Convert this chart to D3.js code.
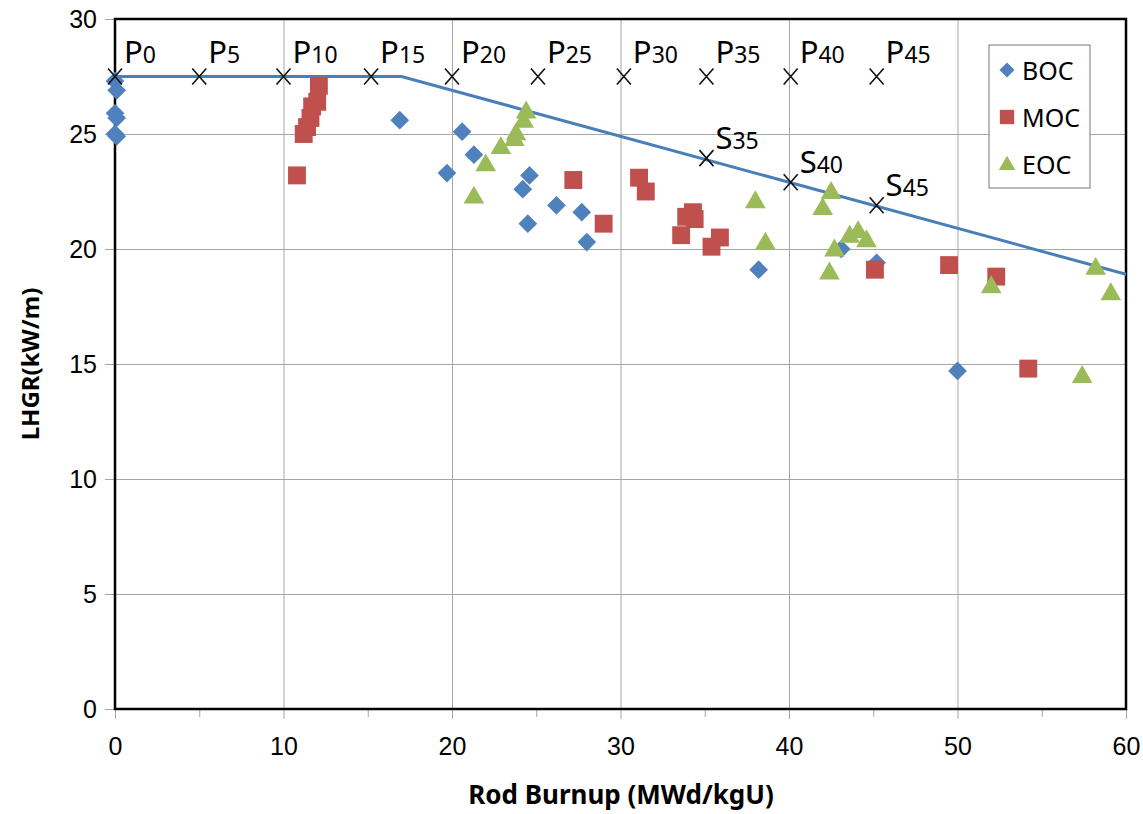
<!DOCTYPE html>
<html>
<head>
<meta charset="utf-8">
<script src="https://cdn.jsdelivr.net/npm/d3@7"></script>
<style>
  html, body { margin: 0; padding: 0; background: #fff; }
  svg { display: block; font-family: "Noto Sans", "DejaVu Sans", sans-serif; }
</style>
</head>
<body>
<svg id="chart" width="1143" height="814"></svg>
<script>
// Linear heat generation rate versus rod burnup, by cycle stage
const xTicks = [0, 10, 20, 30, 40, 50, 60];
const yTicks = [0, 5, 10, 15, 20, 25, 30];

// Beginning of cycle
const bocBurnup = [0, 0.1, 0, 0.1, 0, 0.1, 16.9, 20.6, 21.3, 19.7, 24.6, 24.2, 24.5, 26.2, 27.7, 28.0, 38.2, 43.1, 45.2, 50.0];
const bocLhgr   = [27.3, 26.9, 25.9, 25.7, 25.0, 24.9, 25.6, 25.1, 24.1, 23.3, 23.2, 22.6, 21.1, 21.9, 21.6, 20.3, 19.1, 20.0, 19.4, 14.7];

// Middle of cycle
const mocBurnup = [12.1, 12.0, 11.7, 11.6, 11.4, 11.2, 10.8, 27.2, 29.0, 31.1, 31.5, 34.3, 33.9, 34.4, 33.6, 35.9, 35.4, 45.1, 49.5, 52.3, 54.2];
const mocLhgr   = [27.1, 26.4, 26.2, 25.7, 25.3, 25.0, 23.2, 23.0, 21.1, 23.1, 22.5, 21.6, 21.4, 21.3, 20.6, 20.5, 20.1, 19.1, 19.3, 18.8, 14.8];

// End of cycle
const eocBurnup = [24.4, 24.25, 23.8, 23.7, 22.9, 22.0, 21.3, 38.0, 38.6, 42.5, 42.0, 43.6, 44.1, 44.6, 42.7, 42.4, 52.0, 58.2, 59.1, 57.4];
const eocLhgr   = [26.0, 25.6, 25.05, 24.8, 24.45, 23.7, 22.3, 22.1, 20.3, 22.5, 21.8, 20.6, 20.8, 20.4, 20.0, 19.0, 18.4, 19.2, 18.1, 14.5];

// LHGR limit curve
const limitBurnup = [0, 17, 60];
const limitLhgr   = [27.5, 27.5, 18.9];

// Marked points on and above the limit curve
const pNames  = ["0", "5", "10", "15", "20", "25", "30", "35", "40", "45"];
const pBurnup = [0, 5, 10, 15.2, 20, 25.1, 30.2, 35.1, 40.1, 45.2];
const pLhgr   = [27.5, 27.5, 27.5, 27.5, 27.5, 27.5, 27.5, 27.5, 27.5, 27.5];
const sNames  = ["35", "40", "45"];
const sBurnup = [35.1, 40.1, 45.2];
const sLhgr   = [23.95, 22.9, 21.9];

const seriesNames  = ["BOC", "MOC", "EOC"];
const seriesColors = ["#4F81BD", "#C0504D", "#9BBB59"];

const svg = d3.select("#chart");
const plotL = 115, plotR = 1126, plotT = 19, plotB = 709;

const x = d3.scaleLinear().domain([0, 60]).range([plotL, plotR]);
const y = d3.scaleLinear().domain([0, 30]).range([plotB, plotT]);

const zip = (a, b) => a.map((v, i) => [v, b[i]]);

// Gridlines
svg.append("g")
  .attr("transform", `translate(0,${plotB})`)
  .call(d3.axisBottom(x).tickValues(xTicks.slice(1, -1)).tickSize(-(plotB - plotT)).tickFormat(""))
  .call(g => g.select(".domain").remove())
  .call(g => g.selectAll("line").attr("stroke", "#a6a6a6").attr("stroke-width", 1));
svg.append("g")
  .attr("transform", `translate(${plotL},0)`)
  .call(d3.axisLeft(y).tickValues(yTicks.slice(1, -1)).tickSize(-(plotR - plotL)).tickFormat(""))
  .call(g => g.select(".domain").remove())
  .call(g => g.selectAll("line").attr("stroke", "#a6a6a6").attr("stroke-width", 1));

// Axes
const xAxis = svg.append("g")
  .attr("transform", `translate(0,${plotB})`)
  .call(d3.axisBottom(x).tickValues(xTicks).tickSize(10).tickPadding(18).tickFormat(d3.format("d")));
xAxis.select(".domain").remove();
xAxis.selectAll("line").attr("stroke", "#a6a6a6");
xAxis.selectAll("text").attr("font-size", 25).attr("fill", "#000");

// Minor ticks between labelled x ticks
svg.append("g")
  .attr("transform", `translate(0,${plotB})`)
  .call(d3.axisBottom(x).tickValues(d3.range(5, 60, 10)).tickSize(8).tickFormat(""))
  .call(g => g.select(".domain").remove())
  .call(g => g.selectAll("line").attr("stroke", "#a6a6a6"));

const yAxis = svg.append("g")
  .attr("transform", `translate(${plotL},0)`)
  .call(d3.axisLeft(y).tickValues(yTicks).tickSize(10).tickPadding(8).tickFormat(d3.format("d")));
yAxis.select(".domain").remove();
yAxis.selectAll("line").attr("stroke", "#a6a6a6");
yAxis.selectAll("text").attr("font-size", 25).attr("fill", "#000");

// Plot frame
svg.append("rect")
  .attr("x", plotL).attr("y", plotT)
  .attr("width", plotR - plotL).attr("height", plotB - plotT)
  .attr("fill", "none").attr("stroke", "#000").attr("stroke-width", 2.5);

// Limit curve
svg.append("path")
  .datum(zip(limitBurnup, limitLhgr))
  .attr("fill", "none")
  .attr("stroke", "#4A7EBB")
  .attr("stroke-width", 3)
  .attr("d", d3.line().x(d => x(d[0])).y(d => y(d[1])));

// Data markers: diamond (rotated square), square, triangle
const symbols = [d3.symbolSquare, d3.symbolSquare, d3.symbolTriangle];
const symbolSizes = [175, 320, 185];
const symbolRot = [45, 0, 0];
const symbolShift = [0, 0, 1.5];
function drawMarker(g, type, color, cx, cy, k = 1) {
  return g.append("path")
    .attr("d", d3.symbol().type(symbols[type]).size(symbolSizes[type] * k * k)())
    .attr("fill", color)
    .attr("transform", `translate(${cx},${cy + symbolShift[type] * k}) rotate(${symbolRot[type]})`);
}
[[bocBurnup, bocLhgr], [mocBurnup, mocLhgr], [eocBurnup, eocLhgr]].forEach((s, t) => {
  const g = svg.append("g");
  zip(s[0], s[1]).forEach(d => drawMarker(g, t, seriesColors[t], x(d[0]), y(d[1])));
});

// Cross marks with subscripted labels
function crosses(bx, ly, names, letter, ddx, ddy) {
  const g = svg.append("g");
  zip(bx, ly).forEach((d, i) => {
    const cx = x(d[0]), cy = y(d[1]);
    g.append("path")
      .attr("d", `M${cx - 7},${cy - 8}L${cx + 7},${cy + 8}M${cx + 7},${cy - 8}L${cx - 7},${cy + 8}`)
      .attr("stroke", "#111").attr("stroke-width", 1.6).attr("fill", "none");
    const t = g.append("text")
      .attr("x", cx + ddx).attr("y", cy + ddy)
      .attr("fill", "#000");
    t.append("tspan").attr("font-size", 31).text(letter);
    t.append("tspan").attr("font-size", 23).text(names[i]);
  });
}
crosses(pBurnup, pLhgr, pNames, "P", 9, -14);
crosses(sBurnup, sLhgr, sNames, "S", 9, -9);

// Axis titles
svg.append("text")
  .attr("x", 621).attr("y", 804)
  .attr("text-anchor", "middle")
  .attr("font-size", 26).attr("font-weight", "bold")
  .text("Rod Burnup (MWd/kgU)");
svg.append("text")
  .attr("transform", `translate(39,${(plotT + plotB) / 2}) rotate(-90)`)
  .attr("text-anchor", "middle")
  .attr("font-size", 24).attr("font-weight", "bold")
  .text("LHGR(kW/m)");

// Legend
const legend = svg.append("g").attr("transform", "translate(989,45)");
legend.append("rect")
  .attr("width", 101).attr("height", 143)
  .attr("fill", "#fff").attr("stroke", "#8c8c8c").attr("stroke-width", 1.2);
seriesNames.forEach((name, t) => {
  const ly = 25 + t * 47;
  drawMarker(legend, t, seriesColors[t], 18, ly, 0.8);
  legend.append("text")
    .attr("x", 33).attr("y", ly)
    .attr("dominant-baseline", "central")
    .attr("font-size", 25).attr("fill", "#000")
    .text(name);
});
</script>
</body>
</html>
